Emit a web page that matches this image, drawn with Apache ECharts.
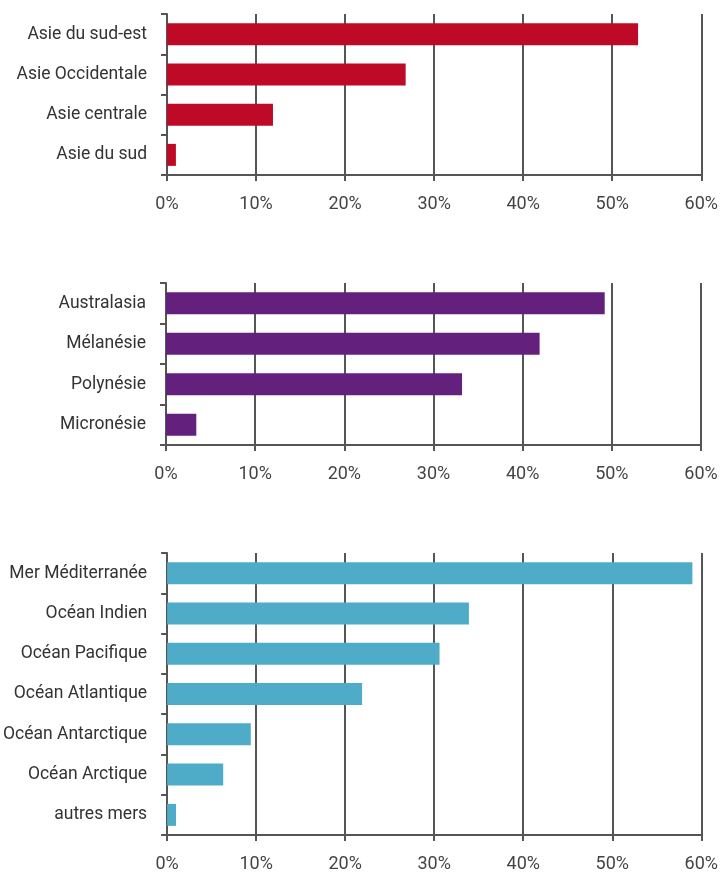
<!DOCTYPE html>
<html><head><meta charset="utf-8">
<script src="https://cdn.jsdelivr.net/npm/echarts@6/dist/echarts.min.js"></script>
<style>html,body{margin:0;padding:0;background:#fff}#c{width:721px;height:873px}</style>
</head><body><div id="c"></div>
<script>
const cats1 = ['Asie du sud-est','Asie Occidentale','Asie centrale','Asie du sud'];
const vals1 = [52.9, 26.8, 11.9, 1.0];
const cats2 = ['Australasia','Mélanésie','Polynésie','Micronésie'];
const vals2 = [49.2, 41.9, 33.2, 3.4];
const cats3 = ['Mer Méditerranée','Océan Indien','Océan Pacifique','Océan Atlantique','Océan Antarctique','Océan Arctique','autres mers'];
const vals3 = [59.0, 33.9, 30.6, 21.9, 9.4, 6.3, 1.0];
const xTicks = [0, 10, 20, 30, 40, 50, 60];

const font = 'Roboto, sans-serif';
const axisColor = '#555';
const grids = [
  {left:167, right:18, top:14, height:161},
  {left:166, right:20, top:283, height:162},
  {left:166, right:19, top:553, height:284}
];
const catsAll = [cats1, cats2, cats3];
const valsAll = [vals1, vals2, vals3];
const colors = ['#BE0A27', '#63207D', '#4FACC8'];

const xAxis = grids.map((g,i)=>({
  gridIndex:i, type:'value', min:xTicks[0], max:xTicks[xTicks.length-1], interval:10,
  axisLine:{show:true, lineStyle:{color:axisColor, width:2}},
  axisTick:{show:true, length:6, lineStyle:{color:axisColor, width:2}},
  axisLabel:{color:'#444', fontSize:18, fontFamily:font, margin:20, formatter:v=>v+'%'},
  splitLine:{show:true, lineStyle:{color:axisColor, width:2}}
}));
const yAxis = grids.map((g,i)=>({
  gridIndex:i, type:'category', data:catsAll[i], inverse:true,
  axisLine:{show:true, lineStyle:{color:axisColor, width:2}},
  axisTick:{show:true, length:6, lineStyle:{color:axisColor, width:2}},
  axisLabel:{color:'#333', fontSize:17.5, fontFamily:font, margin:20}
}));
const series = grids.map((g,i)=>({
  type:'bar', xAxisIndex:i, yAxisIndex:i, data:valsAll[i], barWidth:22,
  itemStyle:{color:colors[i]}, silent:true
}));
const chart = echarts.init(document.getElementById('c'), null, {renderer:'canvas'});
chart.setOption({animation:false, grid:grids, xAxis, yAxis, series});
</script></body></html>
